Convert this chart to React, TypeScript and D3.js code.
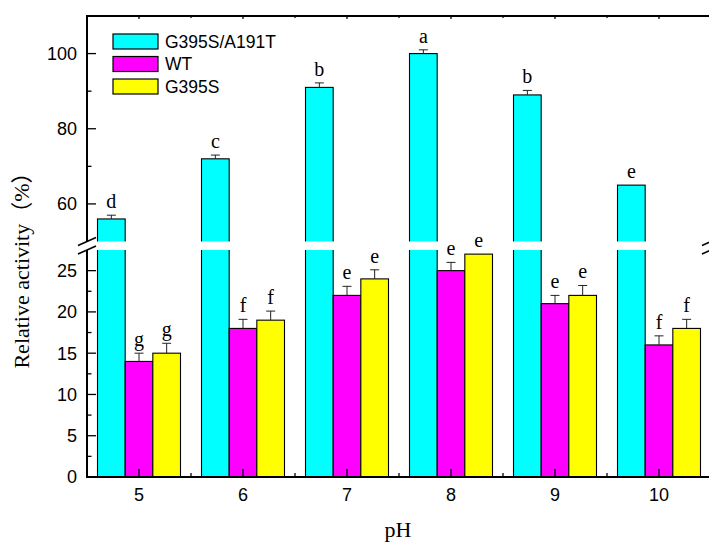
import React, { useEffect, useRef } from "react";
import * as d3 from "d3";

// pH values on the x axis
const phValues = [5, 6, 7, 8, 9, 10];

const seriesNames = ["G395S/A191T", "WT", "G395S"];
const seriesColors = ["#00ffff", "#ff00ff", "#ffff00"];

// relative activity (%) and error (sd) per series
const mutantValues = [56, 72, 91, 100, 89, 65];
const mutantErrors = [1, 1, 1.2, 1, 1.2, 0];
const wtValues = [14, 18, 22, 25, 21, 16];
const wtErrors = [1, 1.1, 1.1, 1, 1, 1.1];
const g395sValues = [15, 19, 24, 27, 22, 18];
const g395sErrors = [1.2, 1.1, 1.1, 0, 1.2, 1.1];

// significance letters
const mutantLetters = ["d", "c", "b", "a", "b", "e"];
const wtLetters = ["g", "f", "e", "e", "e", "f"];
const g395sLetters = ["g", "f", "e", "e", "e", "f"];

const lowerTicks = [0, 5, 10, 15, 20, 25];
const lowerMinor = [2.5, 7.5, 12.5, 17.5, 22.5];
const upperTicks = [60, 80, 100];
const upperMinor = [70, 90];

const sansFont = "Arial, 'Liberation Sans', sans-serif";
const serifFont = "'Times New Roman', 'Liberation Serif', 'Noto Sans CJK SC', serif";

export default function App() {
  const ref = useRef<SVGSVGElement | null>(null);

  useEffect(() => {
    const svg = d3.select(ref.current);
    svg.selectAll("*").remove();

    const left = 87, right = 711, top = 16, bottom = 477;
    const gapTop = 241.5, gapBottom = 250;

    const x = d3.scaleLinear().domain([4.5, 10.5]).range([left, right]);
    const yLow = d3.scaleLinear().domain([0, 27.5]).range([bottom, gapBottom]);
    const yHigh = d3.scaleLinear().domain([50, 110]).range([gapTop, top]);
    const y = (v: number) => (v >= 50 ? yHigh(v) : yLow(v));

    const step = x(6) - x(5);
    const barW = step * 0.266;

    const series = [
      { values: mutantValues, errors: mutantErrors, letters: mutantLetters },
      { values: wtValues, errors: wtErrors, letters: wtLetters },
      { values: g395sValues, errors: g395sErrors, letters: g395sLetters },
    ];

    const g = svg.append("g");

    // bars
    series.forEach((s, si) => {
      const bx = (i: number) => x(phValues[i]) - 1.5 * barW + si * barW;
      g.append("g")
        .selectAll("rect")
        .data(s.values)
        .join("rect")
        .attr("x", (d, i) => bx(i))
        .attr("y", d => y(d))
        .attr("width", barW)
        .attr("height", d => bottom - y(d))
        .attr("fill", seriesColors[si])
        .attr("stroke", "#000")
        .attr("stroke-width", 1.1);

      // error bars (upper half)
      const eg = g.append("g").attr("stroke", "#222").attr("stroke-width", 1);
      s.values.forEach((v, i) => {
        if (s.errors[i] <= 0) return;
        const cx = bx(i) + barW / 2;
        eg.append("line").attr("x1", cx).attr("x2", cx)
          .attr("y1", y(v)).attr("y2", y(v + s.errors[i]));
        eg.append("line").attr("x1", cx - 4.5).attr("x2", cx + 4.5)
          .attr("y1", y(v + s.errors[i])).attr("y2", y(v + s.errors[i]));
      });
    });

    // axis break band
    svg.append("rect")
      .attr("x", left - 3).attr("y", gapTop)
      .attr("width", right - left + 6).attr("height", gapBottom - gapTop)
      .attr("fill", "#fff");

    // frame lines
    const axes = svg.append("g").attr("stroke", "#000").attr("stroke-width", 2);
    axes.append("line").attr("x1", left - 1).attr("x2", right + 2).attr("y1", bottom).attr("y2", bottom);
    axes.append("line").attr("x1", left - 1).attr("x2", right + 2).attr("y1", top).attr("y2", top);
    axes.append("line").attr("x1", left).attr("x2", left).attr("y1", top).attr("y2", gapTop);
    axes.append("line").attr("x1", left).attr("x2", left).attr("y1", gapBottom).attr("y2", bottom);
    axes.append("line").attr("x1", right).attr("x2", right).attr("y1", top).attr("y2", gapTop);
    axes.append("line").attr("x1", right).attr("x2", right).attr("y1", gapBottom).attr("y2", bottom);

    // break marks
    const marks = svg.append("g").attr("stroke", "#000").attr("stroke-width", 1.4);
    [left, right].forEach(ax => {
      [gapTop, gapBottom].forEach(yy => {
        marks.append("line")
          .attr("x1", ax - 9).attr("y1", yy + 4)
          .attr("x2", ax + 9).attr("y2", yy - 4);
      });
    });

    // y ticks (inward)
    const ticks = svg.append("g").attr("stroke", "#000").attr("stroke-width", 1.3);
    const majorY = [...lowerTicks.map(yLow), ...upperTicks.map(yHigh)];
    const minorY = [...lowerMinor.map(yLow), ...upperMinor.map(yHigh)];
    majorY.forEach(yy => ticks.append("line").attr("x1", left).attr("x2", left + 9).attr("y1", yy).attr("y2", yy));
    minorY.forEach(yy => ticks.append("line").attr("x1", left).attr("x2", left + 4.5).attr("y1", yy).attr("y2", yy));

    // x ticks (inward)
    phValues.forEach(p => {
      ticks.append("line").attr("x1", x(p)).attr("x2", x(p)).attr("y1", bottom).attr("y2", bottom - 8);
      ticks.append("line").attr("x1", x(p)).attr("x2", x(p)).attr("y1", top).attr("y2", top + 3);
      ticks.append("line").attr("x1", x(p + 0.5)).attr("x2", x(p + 0.5)).attr("y1", bottom).attr("y2", bottom - 4);
      ticks.append("line").attr("x1", x(p + 0.5)).attr("x2", x(p + 0.5)).attr("y1", top).attr("y2", top + 2);
    });

    // tick labels
    const yLabels = [
      ...lowerTicks.map(t => ({ t, yy: yLow(t) })),
      ...upperTicks.map(t => ({ t, yy: yHigh(t) })),
    ];
    svg.append("g")
      .selectAll("text")
      .data(yLabels)
      .join("text")
      .attr("x", left - 10)
      .attr("y", d => d.yy)
      .attr("dy", "0.36em")
      .attr("text-anchor", "end")
      .attr("font-family", sansFont)
      .attr("font-size", 18)
      .text(d => d.t);

    svg.append("g")
      .selectAll("text")
      .data(phValues)
      .join("text")
      .attr("x", d => x(d))
      .attr("y", 501)
      .attr("text-anchor", "middle")
      .attr("font-family", sansFont)
      .attr("font-size", 18)
      .text(d => d);

    // significance letters
    series.forEach((s, si) => {
      svg.append("g")
        .selectAll("text")
        .data(s.values)
        .join("text")
        .attr("x", (d, i) => x(phValues[i]) - 1.5 * barW + si * barW + barW / 2)
        .attr("y", (d, i) => y(d + s.errors[i]) - 7)
        .attr("text-anchor", "middle")
        .attr("font-family", serifFont)
        .attr("font-size", 20)
        .text((d, i) => s.letters[i]);
    });

    // axis titles
    svg.append("text")
      .attr("x", (left + 709) / 2)
      .attr("y", 537)
      .attr("text-anchor", "middle")
      .attr("font-family", serifFont)
      .attr("font-size", 22)
      .text("pH");

    svg.append("text")
      .attr("transform", "translate(29,265) rotate(-90)")
      .attr("text-anchor", "middle")
      .attr("font-family", serifFont)
      .attr("font-size", 22)
      .text("Relative activity（%）");

    // legend
    const legend = svg.append("g").attr("transform", "translate(113,34)");
    seriesNames.forEach((name, i) => {
      const row = legend.append("g").attr("transform", `translate(0,${i * 22.5})`);
      row.append("rect")
        .attr("width", 45).attr("height", 15)
        .attr("fill", seriesColors[i])
        .attr("stroke", "#000").attr("stroke-width", 1.2);
      row.append("text")
        .attr("x", 52).attr("y", 7.5).attr("dy", "0.36em")
        .attr("font-family", sansFont)
        .attr("font-size", 17.5)
        .text(name);
    });
  }, []);

  return (
    <svg
      ref={ref}
      width={709}
      height={543}
      style={{ position: "absolute", left: 0, top: 0, background: "#fff" }}
    />
  );
}
